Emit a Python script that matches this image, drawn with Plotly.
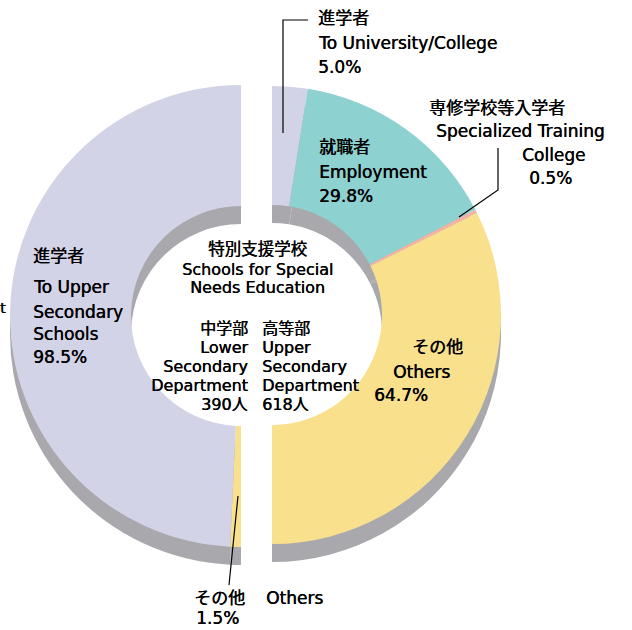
import plotly.graph_objects as go

W, H = 632, 630

# ---- data ----
lower_labels = ["その他 Others", "進学者 To Upper Secondary Schools"]
lower_values = [1.5, 98.5]
upper_labels = ["進学者 To University/College", "就職者 Employment",
                "専修学校等入学者 Specialized Training College", "その他 Others"]
upper_values = [5.0, 29.8, 0.5, 64.7]
lower_total = 390
upper_total = 618

lower_colors = ["#F9E08C", "#D3D3E8"]
upper_colors = ["#D3D3E8", "#8DD1D1", "#F4B4A4", "#F9E08C"]
SHADOW = "#A9A8AD"
CLEAR = "rgba(0,0,0,0)"
FONT = "DejaVu Sans, Noto Sans CJK JP, sans-serif"


def dom(cx, cy, r):
    return dict(x=[(cx - r) / W, (cx + r) / W], y=[1 - (cy + r) / H, 1 - (cy - r) / H])


L_CX, L_CY, L_R = 241, 316, 231
R_CX, R_CY, R_R = 272, 315, 229
R_IN = 110
SH = 18

# left half: hidden half first (right side), then visible slices clockwise
l_vals = [sum(lower_values)] + lower_values
l_labs = ["hidden"] + lower_labels
# right half: visible slices clockwise from 12 o'clock, then hidden half
r_vals = upper_values + [sum(upper_values)]
r_labs = upper_labels + ["hidden"]


def pie(vals, labs, colors, domain, hole):
    return go.Pie(values=vals, labels=labs, sort=False, direction="clockwise",
                  rotation=0, hole=hole, domain=domain, textinfo="none",
                  hoverinfo="skip", showlegend=False,
                  marker=dict(colors=colors, line=dict(width=0)))


fig = go.Figure()
# shadows
fig.add_trace(pie(l_vals, l_labs, [CLEAR] + [SHADOW] * len(lower_values),
                  dom(L_CX, L_CY + SH, L_R), R_IN / L_R))
fig.add_trace(pie(r_vals, r_labs, [SHADOW] * len(upper_values) + [CLEAR],
                  dom(R_CX, R_CY + SH, R_R), R_IN / R_R))
# coloured halves
fig.add_trace(pie(l_vals, l_labs, [CLEAR] + lower_colors,
                  dom(L_CX, L_CY, L_R), R_IN / L_R))
fig.add_trace(pie(r_vals, r_labs, upper_colors + [CLEAR],
                  dom(R_CX, R_CY, R_R), R_IN / R_R))

ann = []


def txt(s, x, y, anchor="left", size=17):
    ann.append(dict(text=s, x=x / W, y=1 - y / H, xref="paper", yref="paper",
                    xanchor=anchor, yanchor="middle", showarrow=False, borderpad=0,
                    font=dict(family=FONT, size=size, color="black",
                              shadow="0.4px 0px 0px black")))


def pct(v):
    return f"{v:.1f}%"


# University
txt("進学者", 317, 18)
txt("To University/College", 317, 43)
txt(pct(upper_values[0]), 317, 67)
# Specialized training
txt("専修学校等入学者", 428, 108)
txt("Specialized Training", 435, 131)
txt("College", 521, 155)
txt(pct(upper_values[2]), 528, 178)
# Employment
txt("就職者", 318, 147)
txt("Employment", 318, 172)
txt(pct(upper_values[1]), 318, 196)
# Others upper
txt("その他", 437, 347, "center")
txt("Others", 421, 372, "center")
txt(pct(upper_values[3]), 401, 395, "center")
# Upper secondary schools (left)
txt("進学者", 32, 256)
txt("To Upper", 32, 287)
txt("Secondary", 32, 312)
txt("Schools", 32, 334)
txt(pct(lower_values[1]), 32, 357)
# centre
txt("特別支援学校", 257, 250, "center", 16.5)
txt("Schools for Special", 257, 269, "center", 16)
txt("Needs Education", 257, 288, "center", 16)
ys = [328, 347, 366, 385, 404]
for t, y in zip(["中学部", "Lower", "Secondary", "Department", f"{lower_total}人"], ys):
    txt(t, 249, y, "right", 16)
for t, y in zip(["高等部", "Upper", "Secondary", "Department", f"{upper_total}人"], ys):
    txt(t, 261, y, "left", 16)
# bottom others
txt("その他", 219, 598, "center")
txt(pct(lower_values[0]), 217, 618, "center")
txt("Others", 265, 598)
txt("t", 7, 308, "right", 14)


def P(x, y):
    return f"{x / W:.5f},{1 - y / H:.5f}"


shapes = [
    dict(type="path", path=f"M{P(283,133)} L{P(283,20)} L{P(308,20)}"),
    dict(type="path", path=f"M{P(459,217)} L{P(498,190)} L{P(498,148)}"),
    dict(type="path", path=f"M{P(238,496)} L{P(229,585)}"),
]
for s in shapes:
    s.update(xref="paper", yref="paper", line=dict(color="black", width=1.2))

fig.update_layout(width=W, height=H, margin=dict(l=0, r=0, t=0, b=0),
                  paper_bgcolor="white", plot_bgcolor="white",
                  annotations=ann, shapes=shapes)
fig.write_html("out.html")
